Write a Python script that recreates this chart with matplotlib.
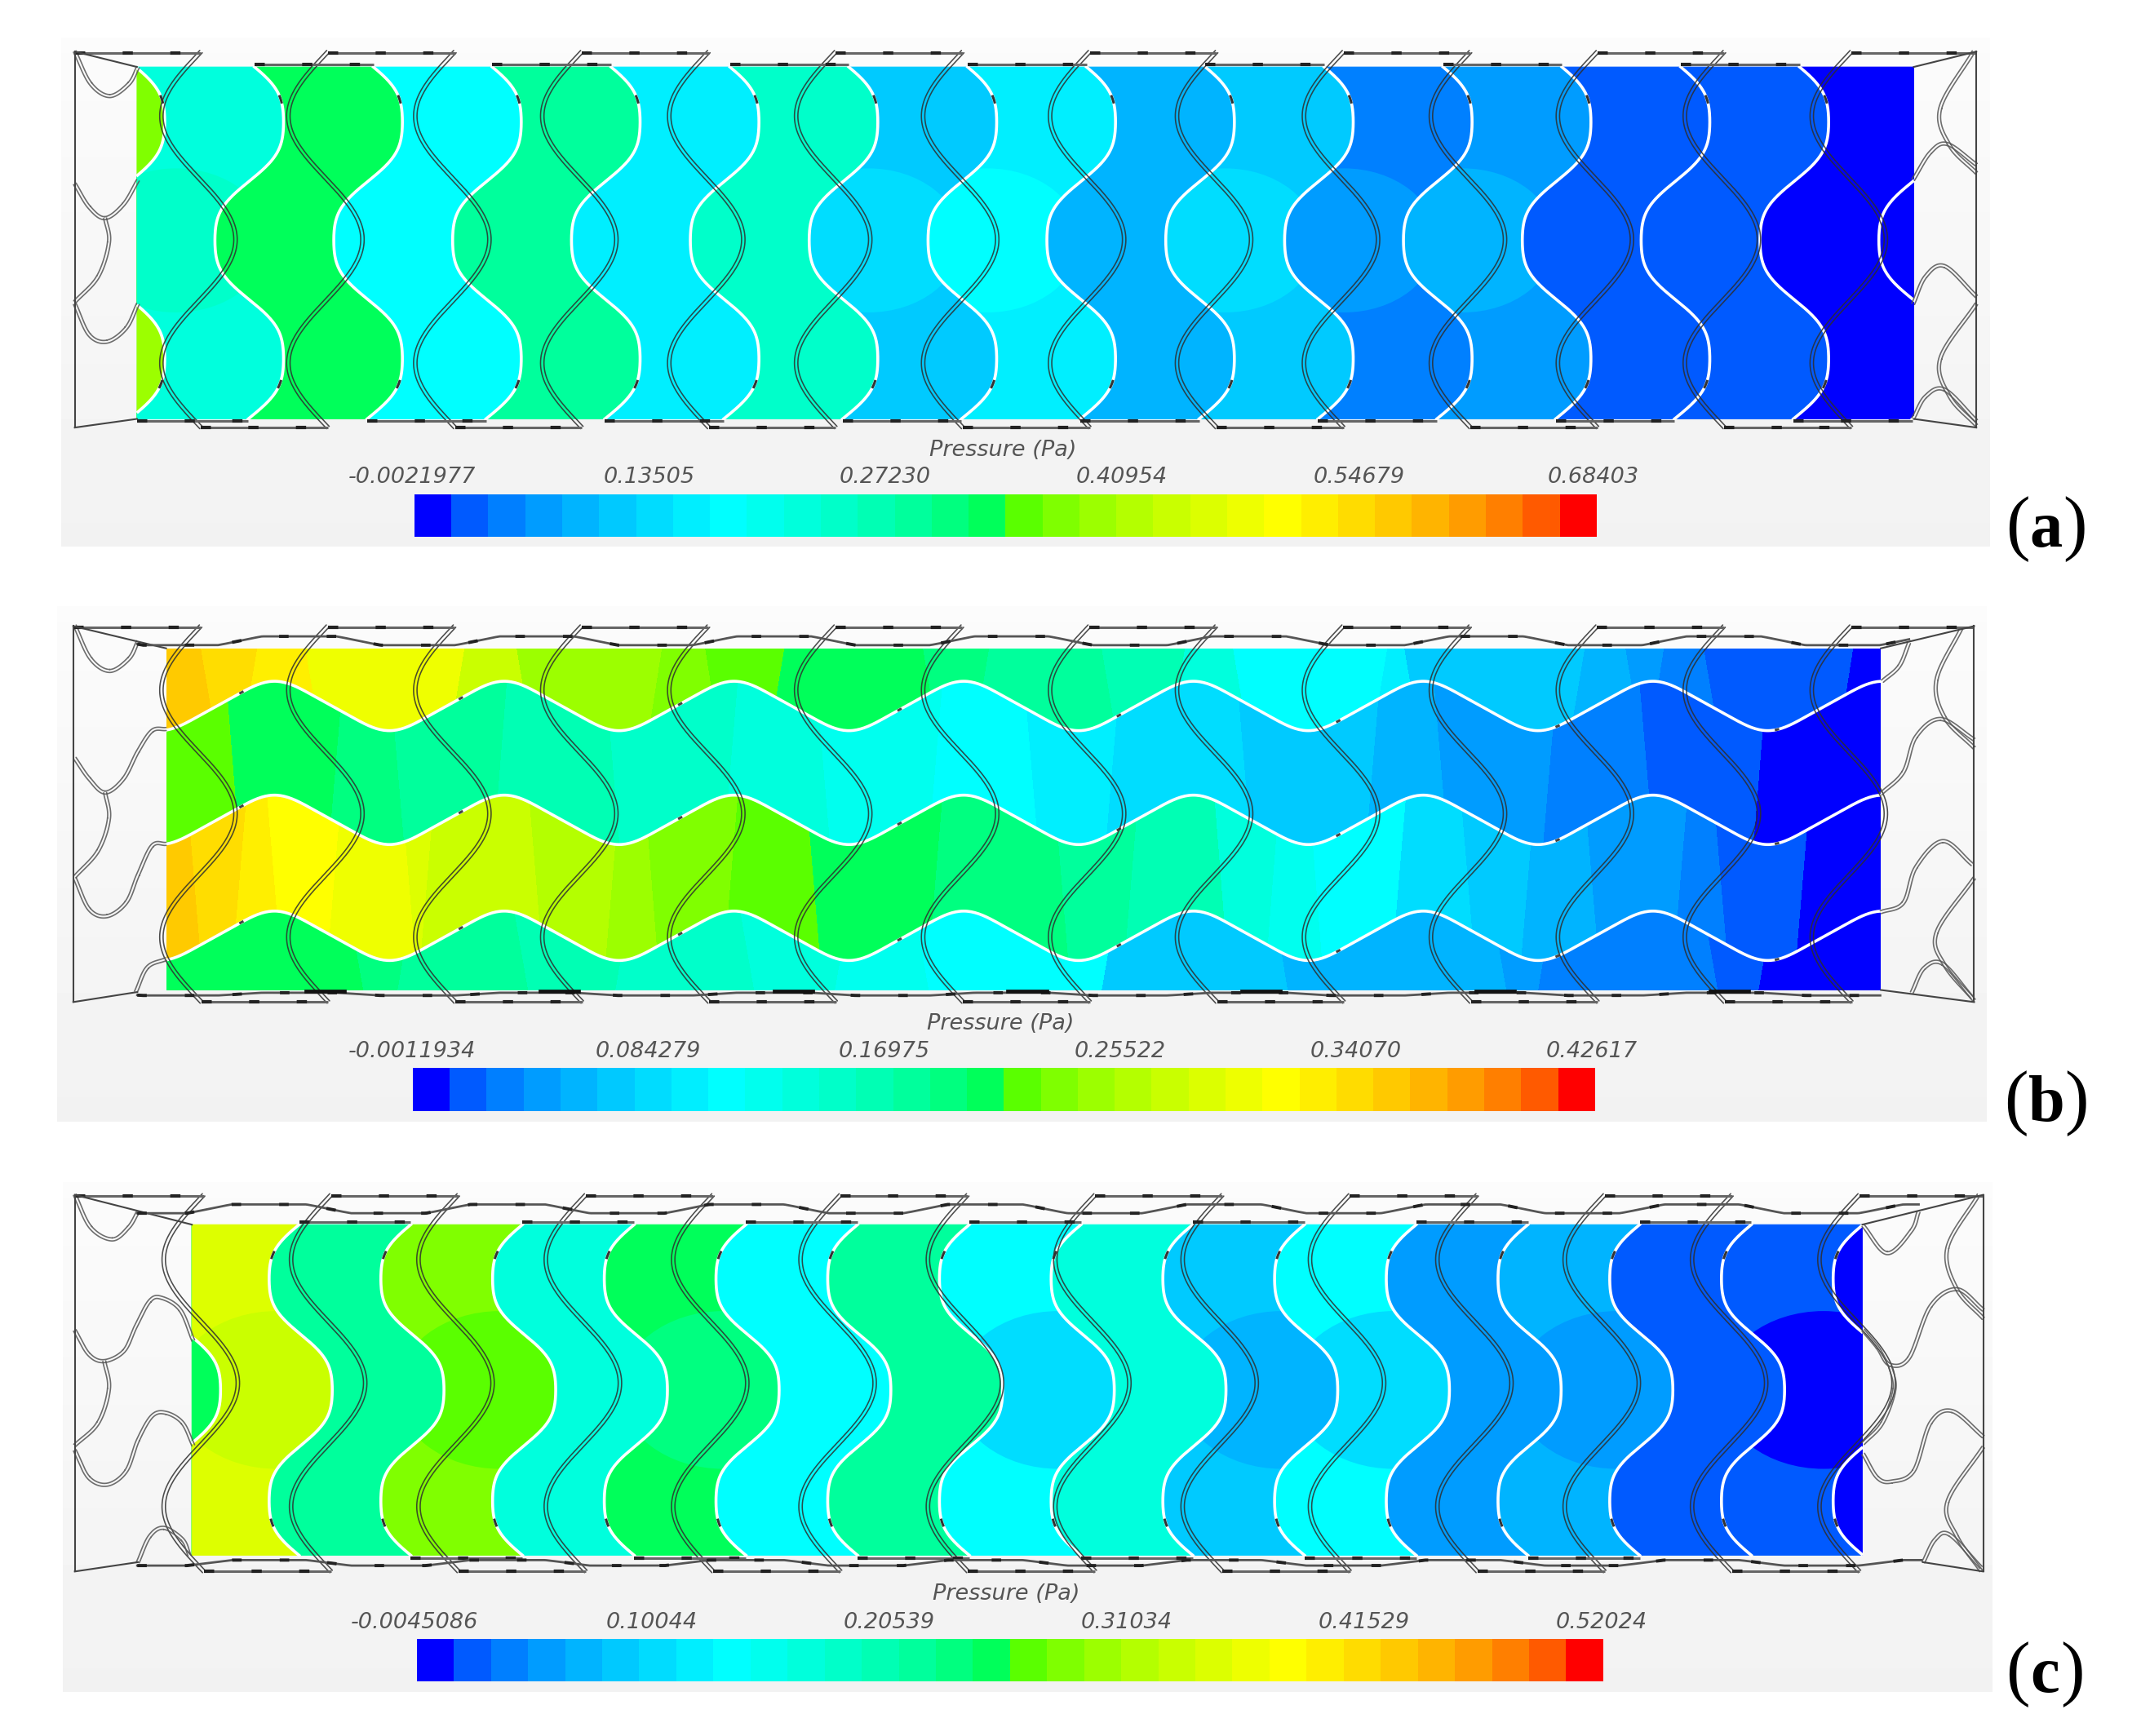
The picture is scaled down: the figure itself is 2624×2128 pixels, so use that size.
import numpy as np
import matplotlib
matplotlib.use("Agg")
import matplotlib.pyplot as plt
from matplotlib.colors import ListedColormap
from matplotlib.patches import Polygon, Ellipse, Rectangle

# pressure labels of the three colour bars
title = "Pressure (Pa)"
ticks_a = ["-0.0021977", "0.13505", "0.27230", "0.40954", "0.54679", "0.68403"]
ticks_b = ["-0.0011934", "0.084279", "0.16975", "0.25522", "0.34070", "0.42617"]
ticks_c = ["-0.0045086", "0.10044", "0.20539", "0.31034", "0.41529", "0.52024"]

# pressure read as colour bar band (0 = blue ... 31 = red), cell by cell from the left
# -1 = no separate patch in the middle of that cell
cells_a = [17, 10, 15, 8, 13, 7, 11, 5, 7, 4, 5, 2, 3, 1, 1, 0, 0]
mid_a = [-1, 11, -1, -1, -1, -1, -1, 6, 8, -1, 6, 3, 4, -1, -1, -1, -1]
low_lobe_a = 18
cells_c = [15, 21, 13, 17, 10, 15, 8, 13, 8, 10, 5, 8, 3, 4, 1, 1, 0]
mid_c = [-1, 20, -1, 16, -1, 14, -1, -1, 6, -1, 4, 6, -1, 3, -1, 0, -1]

# panel b has four wavy channels, each one with bands along x
row0_x = [121, 152, 183, 228, 334, 382, 478, 519, 567, 678, 716, 808, 859, 904, 1006, 1029, 1150, 1190, 1208, 1247, 1346, 1370.5]
row0_bands = [26, 25, 24, 22, 20, 18, 17, 16, 15, 14, 13, 12, 10, 8, 7, 5, 4, 3, 2, 1, 0]
row1_x = [121, 170, 245, 290, 365, 447, 533, 600, 682, 752, 811, 907, 1001, 1050, 1130, 1200, 1283, 1370.5]
row1_bands = [16, 15, 14, 13, 12, 11, 10, 9, 8, 7, 6, 5, 4, 3, 2, 1, 0]
row2_x = [121, 142, 175, 200, 244, 298, 312, 391, 447, 475, 533, 593, 682, 774, 825, 890, 928, 959, 1020, 1070, 1114, 1160, 1225, 1254, 1314, 1370.5]
row2_bands = [26, 25, 24, 23, 22, 21, 20, 19, 18, 17, 16, 15, 14, 13, 12, 10, 9, 8, 6, 5, 4, 3, 2, 1, 0]
row3_x = [121, 260, 295, 380, 454, 545, 614, 672, 808, 934, 965, 1093, 1126, 1247, 1287, 1370.5]
row3_bands = [15, 14, 13, 12, 11, 10, 9, 8, 5, 4, 4, 3, 2, 1, 0]

# end pieces of the channel walls
left_a = [[(54.5, 37.6), (66, 61), (80, 70), (94, 61), (100.5, 49)],
          [(54.5, 134), (65, 151), (76.6, 159), (90, 149), (100.5, 131.4)],
          [(76.6, 159), (79.4, 176.5), (71.5, 201.5), (54.5, 220)],
          [(54.5, 221.5), (65, 244), (78, 249), (92, 239), (100.5, 221.5)]]
right_a = [[(1438, 37.6), (1413.7, 79), (1420.6, 106), (1440, 126)],
           [(1394, 131), (1406.6, 111), (1419, 105), (1440, 120)],
           [(1394, 221.5), (1403, 201.5), (1417, 194), (1440, 216)],
           [(1440, 221.5), (1413.7, 261.5), (1420.6, 289), (1440, 310)],
           [(1394, 305), (1403, 289), (1417, 284), (1440, 306.6)]]
left_b = [[(54.5, 456), (66, 480), (80, 489), (94, 480), (100.5, 467.5)],
          [(54.5, 552.6), (65, 567.6), (76.6, 577.6), (90, 567.6), (100.5, 547.6), (110.8, 532.6), (121, 531.3)],
          [(76.6, 577.6), (79.4, 596.4), (71.5, 620), (54.5, 639)],
          [(54.5, 640), (65, 662.7), (78, 667.7), (92, 657.7), (100.5, 637.7), (110.8, 616.4), (121, 615)],
          [(99, 722.8), (107.4, 705), (121, 699)]]
right_b = [[(1391, 468.6), (1383.8, 485.5), (1371.6, 496.4)],
           [(1429.3, 457.7), (1411, 495.4), (1417, 523), (1438.4, 545)],
           [(1370.4, 578.6), (1386.8, 562.8), (1396, 537), (1414, 524), (1438.4, 539)],
           [(1370.4, 664.8), (1386.8, 658), (1396, 632), (1415.6, 613), (1437, 630)],
           [(1438.4, 640), (1411, 679.7), (1417, 703.5), (1438.4, 729)],
           [(1393, 723.3), (1402, 705.5), (1415.6, 702.5), (1437, 727)]]
left_c = [[(54.5, 870.8), (66, 894.5), (81.8, 903.3), (93.7, 894.5), (100.5, 883.3)],
          [(54.5, 969.6), (64.7, 987), (76, 992), (90.3, 984.6), (98.8, 967), (109, 948.3), (117.6, 945.8), (131.3, 954.6), (140.8, 977)],
          [(76, 992), (79.4, 1012), (71.5, 1037), (54.5, 1053.4)],
          [(54.5, 1057), (64.7, 1077), (78.4, 1082), (92, 1072), (100.5, 1049.7), (110.8, 1032), (121, 1029.7), (133, 1037), (140.8, 1053.4)],
          [(100.5, 1138.5), (109, 1119.8), (119.3, 1113.5), (133, 1122), (138, 1133.5)]]
right_c = [[(1441.7, 870.8), (1418.9, 909.5), (1425.9, 939.6), (1445, 960.8)],
           [(1357.6, 969.6), (1368, 982), (1376.9, 994.6), (1391, 989.6), (1406.6, 952), (1425.9, 939.6), (1445, 954.6)],
           [(1376.9, 994.6), (1380.4, 1012), (1371.6, 1037), (1357.6, 1052)],
           [(1357.6, 1059.7), (1368, 1077), (1378.6, 1079.7), (1394.4, 1072), (1406.6, 1037), (1422.4, 1028.4), (1445, 1047)],
           [(1445, 1054.7), (1418.9, 1094.7), (1425.9, 1119.8), (1443.4, 1144.8)],
           [(1401.4, 1138.5), (1410, 1122), (1420.6, 1118.5), (1443.4, 1142.3)],
           [(1397.9, 883.3), (1392.6, 897), (1375, 913.3), (1357.6, 893.3)]]


def band_colours():
    cols = []
    for i in range(32):
        if i < 8:
            cols.append((0, np.sqrt(i / 8), 1))
        elif i < 16:
            cols.append((0, 1, np.sqrt(1 - (i - 8) / 8)))
        elif i < 24:
            cols.append((min(1, np.sqrt((i - 15) / 8)), 1, 0))
        else:
            cols.append((1, np.sqrt(max(0, 1 - (i - 23) / 8)), 0))
    return ListedColormap(cols)


cmap = band_colours()

fig = plt.figure(figsize=(26.24, 21.28), dpi=100)
ax = fig.add_axes([0, 0, 1, 1])


def smooth(pts):
    # Catmull-Rom through the points
    p = np.array(pts, dtype=float)
    p = np.vstack([2 * p[0] - p[1], p, 2 * p[-1] - p[-2]])
    out = []
    for i in range(1, len(p) - 2):
        t = np.linspace(0, 1, 20)[:, None]
        out.append(0.5 * (2 * p[i] + (p[i + 1] - p[i - 1]) * t
                          + (2 * p[i - 1] - 5 * p[i] + 4 * p[i + 1] - p[i + 2]) * t ** 2
                          + (3 * p[i] - p[i - 1] - 3 * p[i + 1] + p[i + 2]) * t ** 3))
    return np.vstack(out)


def double_line(x, y, color="#2e2e2e", gap=1.25, lw=1.15, alpha=0.85, z=6):
    dx, dy = np.gradient(x), np.gradient(y)
    n = np.hypot(dx, dy)
    n[n == 0] = 1
    for s in (-1, 1):
        ax.plot(x + s * gap * dy / n, y - s * gap * dx / n, color=color, lw=lw, alpha=alpha,
                zorder=z, solid_capstyle="round")


def bar(x0, x1, y):
    ax.plot([x0, x1], [y, y], color="#666666", lw=2.2, zorder=7, solid_capstyle="butt")
    ax.plot([x0, x1], [y, y], color="#222222", lw=3.0, zorder=7, dashes=(3, 11))


def panel_label(letter, cx, cy):
    # thin brackets, bold letter
    base = cy + 13
    half = {"a": 21, "b": 22, "c": 20}[letter]
    serif = dict(family="Liberation Serif", ha="center", va="baseline", color="black")
    ax.text(cx - half, base, "(", fontsize=64, **serif)
    ax.text(cx, base, letter, fontsize=58, fontweight="bold", **serif)
    ax.text(cx + half, base, ")", fontsize=64, **serif)


def panel_back(bg, title_xy, bar_box, tick_xs, labels, letter, label_xy):
    x0, x1, y0, y1 = bg
    grad = np.linspace(0.985, 0.948, 64)[:, None]
    ax.imshow(grad, cmap="gray", vmin=0, vmax=1, extent=(x0, x1, y1, y0), aspect="auto", zorder=0)
    l, r, t, b = bar_box
    ax.imshow(np.arange(32)[None, :], cmap=cmap, vmin=-0.5, vmax=31.5, extent=(l, r, b, t),
              aspect="auto", interpolation="nearest", zorder=2)
    txt = dict(style="oblique", fontsize=19.5, color="#555555", ha="center", va="center",
               family="DejaVu Sans")
    ax.text(title_xy[0], title_xy[1], title, **txt)
    for xt, lab in zip(tick_xs, labels):
        ax.text(xt, t - 12.5, lab, **txt)
    panel_label(letter, label_xy[0], label_xy[1])


def walls(frame, xs0, dx, ymid, corners):
    # double walls crossing the whole channel, with their bars and the frame
    fx0, fx1, fy0, fy1 = frame
    y = np.linspace(fy0, fy1, 300)
    ends = []
    for i in range(14):
        x = xs0 + dx * i + 27 + 27 * np.cos(2 * np.pi * (y - ymid) / 180)
        double_line(x, y)
        ends.append((x[0], x[-1]))
    for i in range(1, 12, 2):
        bar(ends[i][0], ends[i + 1][0], fy0 + 1)
    for i in range(0, 13, 2):
        bar(ends[i][1], ends[i + 1][1], fy1)
    bar(fx0, ends[0][0], fy0 + 1)
    bar(ends[13][0], fx1, fy0 + 1)
    line = dict(color="#444444", lw=1.5, zorder=7)
    ax.plot([fx0, fx0], [fy0, fy1], **line)
    ax.plot([fx1, fx1], [fy0, fy1], **line)
    ax.plot([fx0, corners[0]], [fy0, corners[1]], **line)
    ax.plot([fx1, corners[2]], [fy0, corners[3]], **line)
    ax.plot([fx0, corners[4]], [fy1, corners[5]], **line)
    ax.plot([fx1, corners[6]], [fy1, corners[7]], **line)


def cells(fill, bands, mids, centres, amp, ymid, per, sign, patch):
    lx, rx, ty, by = fill
    y = np.linspace(ty, by, 300)
    th = 2 * np.pi * (y - ymid) / per
    # round lobes, steeper where the walls cross
    shape = (np.cos(th) - 0.08 * np.cos(3 * th)) / 0.92
    curves = [c + sign * amp * shape for c in centres]
    polys = []
    for i, band in enumerate(bands):
        a = np.full_like(y, lx) if i == 0 else np.clip(curves[i - 1], lx, rx)
        b = np.full_like(y, rx) if i == len(curves) else np.clip(curves[i], lx, rx)
        b = np.maximum(a, b)
        poly = Polygon(np.r_[np.c_[a, y], np.c_[b[::-1], y[::-1]]], closed=True,
                       fc=cmap(band), ec=cmap(band), lw=0.6, zorder=1)
        ax.add_patch(poly)
        polys.append(poly)
        if mids[i] >= 0:
            k = np.argmin(np.abs(y - ymid))
            cx = (a[k] + b[k]) / 2
            e = Ellipse((cx, ymid), patch[0], patch[1], fc=cmap(mids[i]), ec="none", zorder=1.5)
            ax.add_patch(e)
            e.set_clip_path(poly)
    for c in curves:
        inside = (c >= lx) & (c <= rx)
        ax.plot(np.where(inside, c, np.nan), y, color="white", lw=2.6, zorder=3)
        # small marks the mesh leaves on the white walls
        for j in (28, 270):
            if inside[j - 6:j + 6].all():
                ax.plot(c[j - 3:j + 3], y[j - 3:j + 3], color="#333333", lw=2.2, zorder=4)
    return curves, polys


def wavy_outline(x0, x1, centre, per, y_mid, h):
    x = np.linspace(x0, x1, 900)
    y = y_mid - h * np.clip(1.8 * np.cos(2 * np.pi * (x - centre) / per), -1, 1)
    ax.plot(x, y, color="#555555", lw=2.0, zorder=7)
    ax.plot(x, y, color="#222222", lw=2.8, zorder=7, dashes=(3, 12))


def end_pieces(pieces):
    for c in pieces:
        p = smooth(c)
        double_line(p[:, 0], p[:, 1], color="#555555", gap=1.1, lw=1.2)


# ----- panel a
fill_a = (99.8, 1394.4, 48.8, 305.3)
panel_back((44.6, 1450, 28, 398.6), (731, 328), (302, 1163, 360.4, 391),
           [300, 473, 645, 817, 990, 1161], ticks_a, "a", (1491, 385.6))
centres_a = [95 + 86.6 * k for k in range(16)]
curves_a, polys_a = cells(fill_a, cells_a, mid_a, centres_a, 25, 175.2, 172.7, -1, (135, 105))
lobe = Rectangle((fill_a[0], 175), 60, 135, fc=cmap(low_lobe_a), ec="none", zorder=1.5)
ax.add_patch(lobe)
lobe.set_clip_path(polys_a[0])
for k in range(1, 15, 2):
    bar(curves_a[k][0], curves_a[k + 1][0], 47)
for k in range(0, 15, 2):
    bar(max(curves_a[k][-1], fill_a[0]), curves_a[k + 1][-1], 306.5)
walls((54.5, 1440, 37.6, 311.6), 117.6, 92.5, 174.6, (99.8, 48.8, 1394.4, 48.8, 99.8, 305.3, 1394.4, 305.3))
end_pieces(left_a + right_a)

# ----- panel b
fill_b = (121, 1370.5, 472.5, 721.5)
panel_back((41.8, 1447.5, 442, 817.4), (729, 746), (301, 1162, 779, 810),
           [300, 472, 644, 816, 988, 1160], ticks_b, "b", (1491, 804))
xb = np.linspace(fill_b[0], fill_b[1], 900)
waves = []
for yc in (514.5, 597.5, 682):
    th = 2 * np.pi * (xb - 200) / 167.4
    waves.append(yc - 18 * (np.cos(th) + 0.05 * np.cos(3 * th)) / 1.05)
tops = [np.full_like(xb, fill_b[2])] + waves
bots = waves + [np.full_like(xb, fill_b[3])]
rows = [(row0_x, row0_bands), (row1_x, row1_bands), (row2_x, row2_bands), (row3_x, row3_bands)]
for (edges, bands), top, bot in zip(rows, tops, bots):
    poly = Polygon(np.r_[np.c_[xb, top], np.c_[xb[::-1], bot[::-1]]], closed=True, fc="none", ec="none")
    ax.add_patch(poly)
    # contour edges lean a little, one way then the other
    e = np.array(edges, dtype=float)
    lean = 5.0 * (-1.0) ** np.arange(len(e))
    lean[0] = lean[-1] = 0
    y_edges = np.array([top.min(), bot.max()])
    mesh = ax.pcolormesh(np.vstack([e + lean, e - lean]), np.repeat(y_edges[:, None], len(e), axis=1),
                         [bands], cmap=cmap, vmin=-0.5, vmax=31.5, shading="flat", zorder=1,
                         edgecolors="face", linewidth=0.3)
    mesh.set_clip_path(poly)
for w in waves:
    ax.plot(xb, w, color="white", lw=2.6, zorder=3)
    for j in range(40, 880, 115):
        ax.plot(xb[j - 1:j + 1], w[j - 1:j + 1], color="#444444", lw=2.2, zorder=4)
walls((53.4, 1438.4, 456.3, 730.3), 117.6, 92.5, 593, (121, 472.5, 1370.5, 472.5, 100, 723, 1370.5, 721.5))
wavy_outline(100, 1391, 218, 173, 467, 3.2)
wavy_outline(100, 1370, 218, 173, 724.5, 1.0)
for i in range(7):
    ax.plot([223 + 170.5 * i, 251 + 170.5 * i], [722.5, 722.5], color="#111111", lw=3.4, zorder=7)
end_pieces(left_b + right_b)

# ----- panel c
fill_c = (139.8, 1357, 892.5, 1133.5)
panel_back((46, 1451.5, 862, 1233), (733, 1162), (303.6, 1167.7, 1195, 1225.4),
           [302, 475, 648, 821, 994, 1166.6], ticks_c, "c", (1490, 1220))
centres_c = [196.1 + 23 + 81.4 * k for k in range(-1, 15)]
curves_c, polys_c = cells(fill_c, cells_c, mid_c, centres_c, 23, 1013, 162, 1, (150, 115))
for k in range(1, 15, 2):
    bar(curves_c[k][0], curves_c[k + 1][0], 890.8)
for k in range(2, 14, 2):
    bar(curves_c[k][-1], curves_c[k + 1][-1], 1135.5)
walls((54.5, 1445, 870.8, 1145.3), 119.3, 92.8, 1008, (139.8, 892.5, 1357, 892.5, 100.5, 1138.5, 1401, 1138.5))
wavy_outline(100, 1398, 196, 174, 881, 3.2)
wavy_outline(100, 1400, 196, 174, 1139, 2.0)
end_pieces(left_c + right_c)

ax.set_xlim(0, 1560)
ax.set_ylim(1265.2, 0)
ax.axis("off")
fig.savefig("out.png", dpi=100, facecolor="white")
